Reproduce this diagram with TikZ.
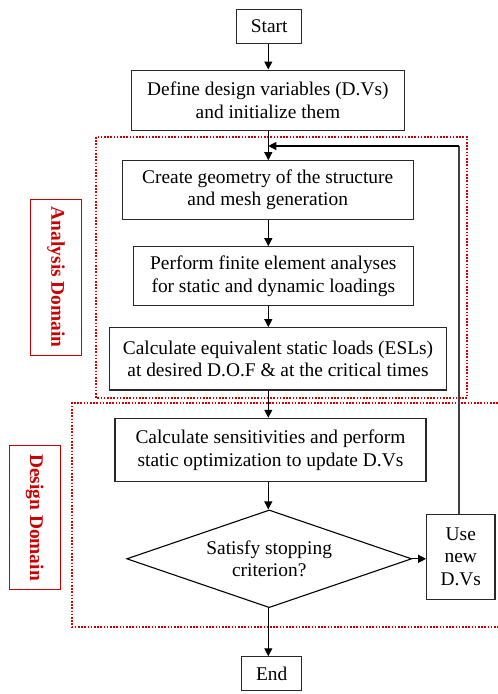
\documentclass[tikz,border=0pt]{standalone}
\usepackage{fontspec}
\setmainfont{Liberation Serif}
\usetikzlibrary{shapes.geometric,arrows.meta}
\definecolor{dred}{RGB}{204,0,0}
\definecolor{boxline}{RGB}{40,40,40}
\begin{document}
\begin{tikzpicture}[x=1pt,y=-1pt,
  txt/.style={font=\fontsize{19.4}{22.5}\selectfont},
  box/.style={txt, draw=boxline, line width=1.1pt, inner sep=0pt, align=center},
  dec/.style={txt, draw=black, line width=1.1pt, inner sep=0pt, align=center, diamond, aspect=2.9},
  domlabel/.style={txt, font=\fontsize{19.4}{22.5}\selectfont\bfseries, text=dred, draw=dred, line width=0.9pt, inner sep=0pt, rotate=-90},
  region/.style={draw=dred, line width=1.8pt, dash pattern=on 1.6pt off 1.6pt},
  flow/.style={draw=black, line width=1.1pt, -{Triangle[length=8pt,width=8pt]}},
  back/.style={draw=black!75, line width=1.1pt}
]
\useasboundingbox (0,0) rectangle (498,694);
\fill[white] (0,0) rectangle (498,694);

% domain regions
\draw[region] (96,137) rectangle (467,398);
\draw[region] (498,403) -- (72,403) -- (72,627) -- (498,627);

% domain labels
\node[domlabel, minimum width=156.7pt, minimum height=50.6pt] (ana) at (56,277.3) {Analysis Domain};
\node[domlabel, minimum width=143.6pt, minimum height=51pt] (des) at (34.8,517.5) {Design Domain};

% flow nodes
\node[box, minimum width=65pt, minimum height=34pt] (start) at (269.2,26.3) {Start};
\node[box, minimum width=272.3pt, minimum height=60.7pt] (define) at (267.9,100.4) {Define design variables (D.Vs)\\and initialize them};
\node[box, minimum width=291.3pt, minimum height=58.6pt] (create) at (267.7,190) {Create geometry of the structure\\and mesh generation};
\node[box, minimum width=280pt, minimum height=59pt] (fea) at (273.3,276.2) {Perform finite element analyses\\for static and dynamic loadings};
\node[box, minimum width=337.4pt, minimum height=62.3pt] (esl) at (278,358.8) {Calculate equivalent static loads (ESLs)\\at desired D.O.F \& at the critical times};
\node[box, minimum width=311pt, minimum height=63.4pt] (sens) at (270.5,450) {Calculate sensitivities and perform\\static optimization to update D.Vs};
\node[dec, minimum width=285pt, minimum height=97.7pt] (stop) at (269.2,558.8) {Satisfy stopping\\criterion?};
\node[box, minimum width=68.3pt, minimum height=85.3pt] (use) at (460.8,556.7) {Use\\new\\D.Vs};
\node[box, minimum width=60pt, minimum height=34pt] (end) at (271.7,673.8) {End};

\coordinate (spine) at (268.3,0);
\coordinate (join) at (268.3,146);
\coordinate (turn) at (459,146);

% connectors
\draw[flow] (start.south -| spine) -- (define.north -| spine);
\draw[flow] (define.south -| spine) -- (create.north -| spine);
\draw[flow] (create.south -| spine) -- (fea.north -| spine);
\draw[flow] (fea.south -| spine) -- (esl.north -| spine);
\draw[flow] (esl.south -| spine) -- (sens.north -| spine);
\draw[flow] (sens.south -| spine) -- (stop.north -| spine);
\draw[flow] (stop.east) -- (use.west |- stop.east);
\draw[flow] (stop.south -| spine) -- (end.north -| spine);
\draw[back] (use.north -| turn) -- (turn);
\draw[flow] (turn) -- (join);
\end{tikzpicture}
\end{document}
